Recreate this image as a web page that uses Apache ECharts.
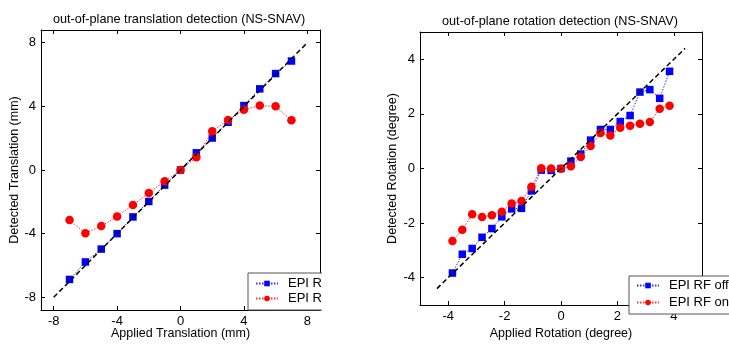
<!DOCTYPE html>
<html>
<head>
<meta charset="utf-8">
<script src="https://cdn.jsdelivr.net/npm/echarts@6/dist/echarts.min.js"></script>
<style>
html,body{margin:0;padding:0;width:729px;height:345px;overflow:hidden;background:#fff;}
#wrapL{position:absolute;left:0;top:0;width:322px;height:345px;overflow:hidden;}
#chartL{position:absolute;left:0;top:0;width:358px;height:345px;}
#chartR{position:absolute;left:360px;top:0;width:400px;height:345px;}
</style>
</head>
<body>
<div id="wrapL"><div id="chartL"></div></div>
<div id="chartR"></div>
<script>
// ---- data ----
const transX   = [-7, -6, -5, -4, -3, -2, -1, 0, 1, 2, 3, 4, 5, 6, 7];
const transOff = [-6.88, -5.78, -4.97, -4.0, -2.95, -1.98, -0.95, 0, 1.08, 2.01, 3.0, 4.05, 5.1, 6.06, 6.85];
const transOn  = [-3.15, -3.97, -3.52, -2.93, -2.2, -1.45, -0.7, 0, 0.8, 2.43, 3.15, 3.78, 4.05, 4.0, 3.13];
const transDiag = [-8, 8];
const transTicks = [-8, -4, 0, 4, 8];

const rotX   = [-3.85, -3.5, -3.15, -2.8, -2.45, -2.1, -1.75, -1.4, -1.05, -0.7, -0.35, 0, 0.35, 0.7, 1.05, 1.4, 1.75, 2.1, 2.45, 2.8, 3.15, 3.5, 3.85];
const rotOff = [-3.83, -3.14, -2.93, -2.52, -2.2, -1.77, -1.48, -1.46, -0.82, -0.06, -0.07, 0, 0.27, 0.53, 1.04, 1.43, 1.43, 1.72, 1.94, 2.8, 2.89, 2.57, 3.56];
const rotOn  = [-2.66, -2.24, -1.68, -1.78, -1.71, -1.58, -1.28, -1.19, -0.67, 0.01, 0.0, -0.01, 0.08, 0.42, 0.82, 1.3, 1.21, 1.49, 1.57, 1.64, 1.7, 2.19, 2.3];
const rotDiag = [-4.4, 4.4];
const rotTicks = [-4, -2, 0, 2, 4];

const legendNames = ['EPI RF off', 'EPI RF on'];
// ---------------

const FONT = 'Liberation Sans, Arial, sans-serif';
const zip = (xs, ys) => xs.map((x, i) => [x, ys[i]]);

function axis(pos, lim, ticks, name, showLabel, nameGap) {
  const a = {
    type: 'value', position: pos, min: -lim, max: lim,
    splitLine: {show: false},
    axisLine: {show: true, onZero: false, lineStyle: {color: '#000', width: 1}},
    axisTick: {show: true, inside: true, length: 4, customValues: ticks, lineStyle: {color: '#000', width: 1}},
    axisLabel: {show: showLabel, customValues: ticks, color: '#000', fontSize: 13, fontFamily: FONT, margin: 5},
  };
  if (name) {
    a.name = name; a.nameLocation = 'middle'; a.nameGap = nameGap; a.nameMoveOverlap = false;
    a.nameTextStyle = {color: '#000', fontSize: 12.5, fontFamily: FONT};
  }
  return a;
}

function build(cfg) {
  return {
    animation: false,
    backgroundColor: '#fff',
    title: {text: cfg.title, left: 'center', top: cfg.titleTop,
      textStyle: {color: '#000', fontSize: 12.7, fontWeight: 'normal', fontFamily: FONT}},
    grid: {left: cfg.grid[0], top: cfg.grid[1], width: cfg.grid[2], height: cfg.grid[3], containLabel: false},
    xAxis: [axis('bottom', cfg.lim, cfg.ticks, cfg.xName, true, cfg.xGap),
            axis('top', cfg.lim, cfg.ticks, null, false)],
    yAxis: [axis('left', cfg.lim, cfg.ticks, cfg.yName, true, cfg.yGap),
            axis('right', cfg.lim, cfg.ticks, null, false)],
    legend: {
      data: legendNames, orient: 'vertical', left: cfg.legend[0], top: cfg.legend[1],
      backgroundColor: '#fff', borderColor: '#555', borderWidth: 1,
      padding: cfg.legendPad, itemGap: cfg.legendGap, itemWidth: 22, itemHeight: 7,
      textStyle: {color: '#000', fontSize: 13, fontFamily: FONT, padding: [0, 0, 0, 5]}
    },
    series: [
      {name: legendNames[0], type: 'line', data: zip(cfg.x, cfg.off),
       symbol: 'rect', symbolSize: 7.5, itemStyle: {color: '#0000ff'},
       lineStyle: {color: '#3030ff', width: 1, type: [1.5, 1.5]}, z: 3},
      {name: legendNames[1], type: 'line', data: zip(cfg.x, cfg.on),
       symbol: 'circle', symbolSize: 8.5, itemStyle: {color: '#ff0000'},
       lineStyle: {color: '#ff3030', width: 1, type: [1.5, 1.5]}, z: 4},
      {name: 'diag', type: 'line', data: zip(cfg.diag, cfg.diag), symbol: 'none',
       lineStyle: {color: '#000', width: 1.5, type: [5, 3]}, z: 5, silent: true}
    ]
  };
}

const cL = echarts.init(document.getElementById('chartL'), null, {renderer: 'canvas'});
cL.setOption(build({
  title: 'out-of-plane translation detection (NS-SNAV)', titleTop: 8,
  grid: [40, 30, 280, 280], lim: 8.8, ticks: transTicks,
  xName: 'Applied Translation (mm)', yName: 'Detected Translation (mm)', xGap: 17, yGap: 20,
  legend: [248, 273], legendPad: [4, 8, 5, 7], legendGap: 2,
  x: transX, off: transOff, on: transOn, diag: transDiag
}));

const cR = echarts.init(document.getElementById('chartR'), null, {renderer: 'canvas'});
cR.setOption(build({
  title: 'out-of-plane rotation detection (NS-SNAV)', titleTop: 10,
  grid: [60, 32, 282, 281], lim: 5, ticks: rotTicks,
  xName: 'Applied Rotation (degree)', yName: 'Detected Rotation (degree)', xGap: 22, yGap: 21,
  legend: [269, 276], legendPad: [3, 8, 5, 7], legendGap: 4,
  x: rotX, off: rotOff, on: rotOn, diag: rotDiag
}));
</script>
</body>
</html>
